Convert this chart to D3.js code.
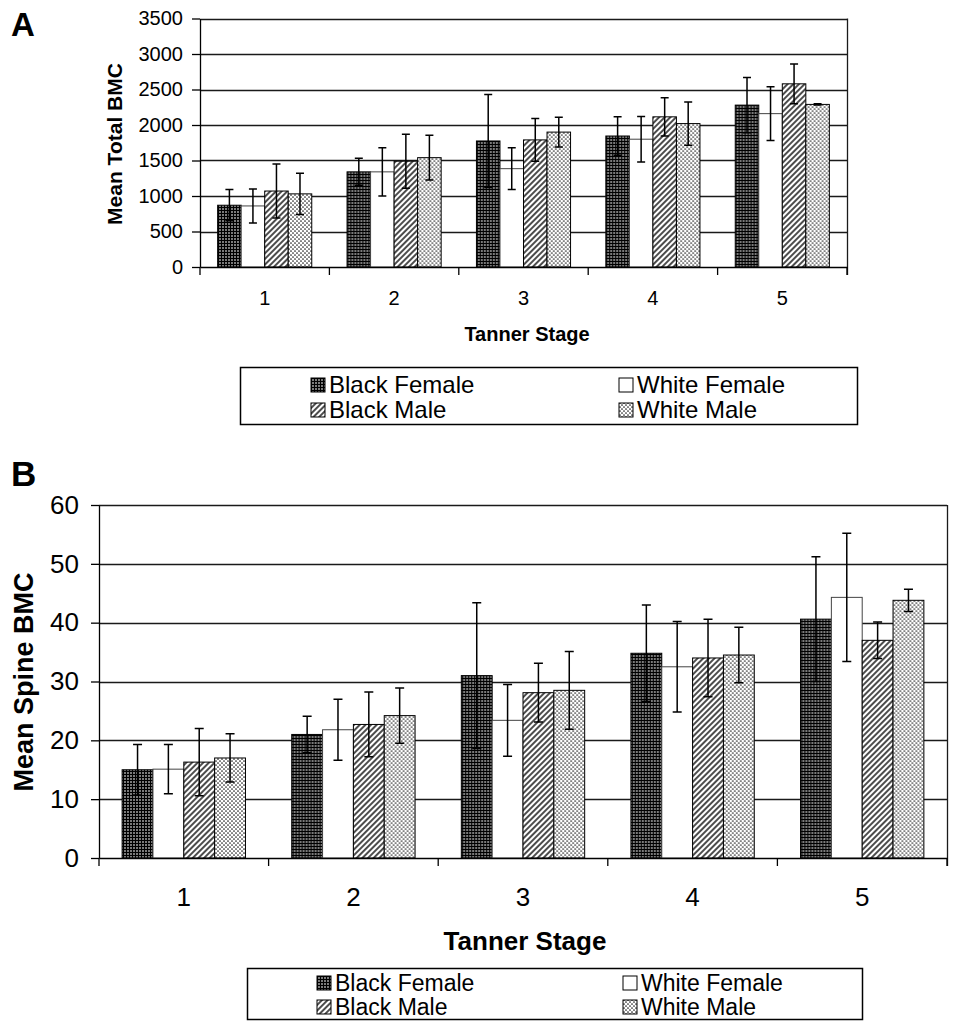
<!DOCTYPE html>
<html>
<head>
<meta charset="utf-8">
<script src="https://cdn.jsdelivr.net/npm/d3@7"></script>
<style>
    body { margin: 0; background: #fff; }
    svg { font-family: 'Liberation Sans', Arial, Helvetica, sans-serif; }
</style>
</head>
<body>
<svg id="chart" width="953" height="1021"></svg>
<script>
// categories
const stages = ['1', '2', '3', '4', '5'];
const groups = ['Black Female', 'White Female', 'Black Male', 'White Male'];
const groupKeys = ['bf', 'wf', 'bm', 'wm'];

// panel A : mean total BMC (mean, +/- error)
const totalBlackFemale    = [870, 1340, 1775, 1845, 2280];
const totalBlackFemaleErr = [220, 190, 655, 270, 390];
const totalWhiteFemale    = [860, 1340, 1385, 1800, 2160];
const totalWhiteFemaleErr = [240, 340, 295, 320, 380];
const totalBlackMale      = [1070, 1490, 1790, 2115, 2580];
const totalBlackMaleErr   = [380, 380, 300, 270, 280];
const totalWhiteMale      = [1030, 1540, 1900, 2020, 2290];
const totalWhiteMaleErr   = [290, 315, 210, 305, 8];

// panel B : mean spine BMC
const spineBlackFemale    = [15.0, 21.0, 31.0, 34.8, 40.6];
const spineBlackFemaleErr = [4.3, 3.1, 12.4, 8.2, 10.6];
const spineWhiteFemale    = [15.1, 21.8, 23.4, 32.5, 44.3];
const spineWhiteFemaleErr = [4.2, 5.2, 6.1, 7.7, 10.9];
const spineBlackMale      = [16.3, 22.7, 28.1, 34.0, 37.0];
const spineBlackMaleErr   = [5.7, 5.5, 5.0, 6.6, 3.1];
const spineWhiteMale      = [17.0, 24.2, 28.5, 34.5, 43.8];
const spineWhiteMaleErr   = [4.1, 4.7, 6.6, 4.7, 1.9];

// y tick values
const totalTicks = d3.range(0, 3501, 500);
const spineTicks = d3.range(0, 61, 10);

// reshape series into stage -> 4 bars
function toRows(series, errs) {
    return stages.map((s, i) => ({
        stage: s,
        values: groups.map((g, j) => ({group: g, key: groupKeys[j], v: series[j][i], e: errs[j][i]}))
    }));
}

const svg = d3.select('#chart');
const defs = svg.append('defs');

// fill patterns
const pBF = defs.append('pattern')
    .attr('id', 'pat-bf')
    .attr('patternUnits', 'userSpaceOnUse')
    .attr('width', 3).attr('height', 3);
pBF.append('rect').attr('width', 3).attr('height', 3).attr('fill', '#7a7a7a');
pBF.append('rect').attr('width', 3).attr('height', 1).attr('fill', '#000');
pBF.append('rect').attr('width', 1).attr('height', 3).attr('fill', '#000');

const pBM = defs.append('pattern')
    .attr('id', 'pat-bm')
    .attr('patternUnits', 'userSpaceOnUse')
    .attr('width', 4).attr('height', 4)
    .attr('patternTransform', 'rotate(45)');
pBM.append('rect').attr('width', 4).attr('height', 4).attr('fill', '#fff');
pBM.append('line')
    .attr('x1', 1).attr('y1', 0).attr('x2', 1).attr('y2', 4)
    .attr('stroke', '#000').attr('stroke-width', 1.4);

const pWM = defs.append('pattern')
    .attr('id', 'pat-wm')
    .attr('patternUnits', 'userSpaceOnUse')
    .attr('width', 4).attr('height', 4);
pWM.append('rect').attr('width', 4).attr('height', 4).attr('fill', '#fff');
pWM.append('circle').attr('cx', 1).attr('cy', 1).attr('r', 0.85).attr('fill', '#222');
pWM.append('circle').attr('cx', 3).attr('cy', 3).attr('r', 0.85).attr('fill', '#222');

const fillFor = k => k === 'wf' ? '#fff' : `url(#pat-${k})`;

// grouped bar panel factory
function GroupedBars() {

    let _box = {x0: 0, x1: 100, y0: 0, y1: 100};
    let _ticks = [0, 1];
    let _fs = 18;
    let _tickPad = 10;
    let _labelPad = 24;
    let _cap = 8;

    function exports(data) {

        const root = d3.select(this);
        const box = _box;
        const yMax = d3.max(_ticks);

        // scales
        const x0 = d3.scaleBand()
            .domain(stages)
            .range([box.x0, box.x1])
            .padding(0);
        const x1 = d3.scaleBand()
            .domain(groups)
            .range([0, x0.bandwidth()])
            .paddingInner(0)
            .paddingOuter(0.75);
        const y = d3.scaleLinear()
            .domain([0, yMax])
            .range([box.y1, box.y0]);

        // gridlines (incl. top edge) + right border
        root.append('g')
            .selectAll('line')
            .data(_ticks.filter(t => t > 0))
            .join('line')
            .attr('x1', box.x0).attr('x2', box.x1)
            .attr('y1', d => Math.round(y(d)) + 0.5)
            .attr('y2', d => Math.round(y(d)) + 0.5)
            .style('stroke', '#1a1a1a')
            .style('stroke-width', 1.3);
        root.append('line')
            .attr('x1', Math.round(box.x1) + 0.5).attr('x2', Math.round(box.x1) + 0.5)
            .attr('y1', y(yMax)).attr('y2', y(0) + 8)
            .style('stroke', '#1a1a1a')
            .style('stroke-width', 1.3);

        // bars
        const stageG = root.append('g')
            .selectAll('.stage')
            .data(data)
            .join('g')
            .classed('stage', true)
            .attr('transform', d => `translate(${x0(d.stage)},0)`);

        stageG.selectAll('rect')
            .data(d => d.values)
            .join('rect')
            .attr('x', d => x1(d.group))
            .attr('y', d => y(d.v))
            .attr('width', x1.bandwidth())
            .attr('height', d => y(0) - y(d.v))
            .attr('fill', d => fillFor(d.key))
            .style('stroke', d => d.key === 'wf' ? '#444' : '#000')
            .style('stroke-width', 1);

        // error bars
        const c = _cap / 2;
        stageG.selectAll('.err')
            .data(d => d.values)
            .join('path')
            .classed('err', true)
            .attr('transform', d => `translate(${x1(d.group) + x1.bandwidth() / 2},0)`)
            .attr('d', d => {
                const hi = y(d.v + d.e), lo = y(d.v - d.e);
                return `M0,${hi}V${lo}M${-c},${hi}h${2 * c}M${-c},${lo}h${2 * c}`;
            })
            .style('fill', 'none')
            .style('stroke', '#000')
            .style('stroke-width', 1.5);

        // y axis
        const yAxis = root.append('g')
            .attr('transform', `translate(${box.x0},0)`)
            .call(d3.axisLeft(y)
                .tickValues(_ticks)
                .tickFormat(d3.format('d'))
                .tickSize(8)
                .tickSizeOuter(0)
                .tickPadding(_tickPad));
        yAxis.selectAll('text').style('font-size', _fs + 'px').style('fill', '#000').style('font-family', 'inherit');
        yAxis.selectAll('line, path').style('stroke', '#000').style('stroke-width', 1.3);

        // x axis: labels centred, ticks on category edges
        const xAxis = root.append('g')
            .attr('transform', `translate(0,${box.y1})`)
            .call(d3.axisBottom(x0).tickSize(0).tickSizeOuter(0).tickPadding(_labelPad));
        xAxis.selectAll('text').style('font-size', _fs + 'px').style('fill', '#000').style('font-family', 'inherit');
        xAxis.select('.domain').style('stroke', '#000').style('stroke-width', 1.3);
        xAxis.selectAll('.edge')
            .data(stages.map(s => x0(s)).concat([box.x1]))
            .join('line')
            .classed('edge', true)
            .attr('x1', d => d).attr('x2', d => d)
            .attr('y1', 0).attr('y2', 8)
            .style('stroke', '#000')
            .style('stroke-width', 1.3);
    }

    exports.box = function(_) {
        if (typeof _ === 'undefined') return _box;
        _box = _;
        return this;
    };
    exports.ticks = function(_) {
        if (typeof _ === 'undefined') return _ticks;
        _ticks = _;
        return this;
    };
    exports.fontSize = function(_) {
        if (typeof _ === 'undefined') return _fs;
        _fs = _;
        return this;
    };
    exports.tickPad = function(_) {
        if (typeof _ === 'undefined') return _tickPad;
        _tickPad = _;
        return this;
    };
    exports.labelPad = function(_) {
        if (typeof _ === 'undefined') return _labelPad;
        _labelPad = _;
        return this;
    };
    exports.cap = function(_) {
        if (typeof _ === 'undefined') return _cap;
        _cap = _;
        return this;
    };

    return exports;
}

// legend with 2 columns x 2 rows
function drawLegend(g, o) {
    g.append('rect')
        .attr('x', o.x + 0.5).attr('y', o.y + 0.5)
        .attr('width', o.w).attr('height', o.h)
        .style('fill', '#fff')
        .style('stroke', '#000')
        .style('stroke-width', 1.5);
    const items = g.selectAll('.item')
        .data(groups.map((name, i) => ({name, key: groupKeys[i], col: i % 2, row: Math.floor(i / 2)})))
        .join('g')
        .classed('item', true)
        .attr('transform', d => `translate(${o.cols[d.col]},${o.rows[d.row]})`);
    items.append('rect')
        .attr('x', 0).attr('y', -o.sw - 1)
        .attr('width', o.sw).attr('height', o.sw)
        .attr('fill', d => fillFor(d.key))
        .style('stroke', '#000')
        .style('stroke-width', 1);
    items.append('text')
        .attr('x', o.sw + 4)
        .attr('y', 0)
        .style('font-size', o.fs + 'px')
        .text(d => d.name);
}

// ---------- panel A ----------
const gA = svg.append('g');
gA.append('text').attr('x', 11).attr('y', 36)
    .style('font-size', '33px').style('font-weight', 'bold').text('A');

gA.append('g')
    .datum(toRows(
        [totalBlackFemale, totalWhiteFemale, totalBlackMale, totalWhiteMale],
        [totalBlackFemaleErr, totalWhiteFemaleErr, totalBlackMaleErr, totalWhiteMaleErr]))
    .each(GroupedBars()
        .box({x0: 200, x1: 847, y0: 18.5, y1: 267})
        .ticks(totalTicks)
        .fontSize(20)
        .tickPad(9)
        .labelPad(24)
        .cap(8));

gA.append('text')
    .attr('transform', 'translate(122,144) rotate(-90)')
    .attr('text-anchor', 'middle')
    .style('font-size', '21px').style('font-weight', 'bold')
    .text('Mean Total BMC');
gA.append('text')
    .attr('x', 527).attr('y', 341)
    .attr('text-anchor', 'middle')
    .style('font-size', '20px').style('font-weight', 'bold')
    .text('Tanner Stage');

drawLegend(gA.append('g'), {x: 240, y: 367, w: 617, h: 57, cols: [311, 619], rows: [393, 418], sw: 14, fs: 24});

// ---------- panel B ----------
const gB = svg.append('g');
gB.append('text').attr('x', 11).attr('y', 486)
    .style('font-size', '35px').style('font-weight', 'bold').text('B');

gB.append('g')
    .datum(toRows(
        [spineBlackFemale, spineWhiteFemale, spineBlackMale, spineWhiteMale],
        [spineBlackFemaleErr, spineWhiteFemaleErr, spineBlackMaleErr, spineWhiteMaleErr]))
    .each(GroupedBars()
        .box({x0: 99, x1: 947, y0: 505, y1: 858})
        .ticks(spineTicks)
        .fontSize(26)
        .tickPad(12)
        .labelPad(30)
        .cap(9));

gB.append('text')
    .attr('transform', 'translate(33,682) rotate(-90)')
    .attr('text-anchor', 'middle')
    .style('font-size', '27px').style('font-weight', 'bold')
    .text('Mean Spine BMC');
gB.append('text')
    .attr('x', 525).attr('y', 950)
    .attr('text-anchor', 'middle')
    .style('font-size', '26px').style('font-weight', 'bold')
    .text('Tanner Stage');

drawLegend(gB.append('g'), {x: 247, y: 968, w: 615, h: 51, cols: [317, 623], rows: [991, 1015], sw: 14, fs: 23});
</script>
</body>
</html>
